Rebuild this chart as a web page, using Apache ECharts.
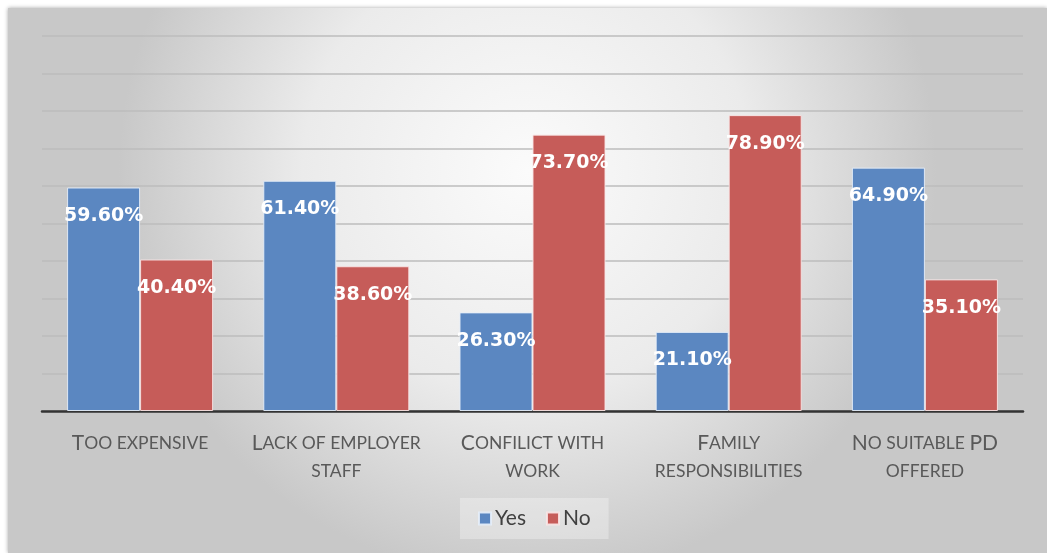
<!DOCTYPE html>
<html>
<head>
<meta charset="utf-8">
<script src="https://cdn.jsdelivr.net/npm/echarts@6/dist/echarts.min.js"></script>
<style>
html,body{margin:0;padding:0;background:#fff;}
#c{width:1047px;height:553px;}
</style>
</head>
<body>
<div id="c"></div>
<script>
const categories = ["Too expensive", "Lack of employer\nstaff", "Confilict with\nwork", "Family\nresponsibilities", "No suitable PD\noffered"];
const seriesNames = ["Yes", "No"];
const yesValues = [59.6, 61.4, 26.3, 21.1, 64.9];
const noValues = [40.4, 38.6, 73.7, 78.9, 35.1];

function smallCaps(text) {
  return text.split('\n').map(line => {
    let out = '', cur = '', curStyle = null;
    for (const ch of line) {
      const st = (ch >= 'A' && ch <= 'Z') ? 'b' : 's';
      if (curStyle !== null && st !== curStyle && cur) { out += '{' + curStyle + '|' + cur + '}'; cur = ''; }
      curStyle = st; cur += ch.toUpperCase();
    }
    if (cur) out += '{' + curStyle + '|' + cur + '}';
    return out;
  }).join('\n');
}

const chart = echarts.init(document.getElementById('c'));
const labelStyle = {
  show: true,
  position: 'insideTop',
  distance: 19,
  color: '#ffffff',
  fontFamily: 'DejaVu Sans',
  fontWeight: 'bold',
  fontSize: 19,
  formatter: p => p.value.toFixed(2) + '%'
};
chart.setOption({
  animation: false,
  graphic: [{
    type: 'rect', z: -10, silent: true,
    shape: {x: 8, y: 8, width: 1039, height: 545},
    style: {
      fill: new echarts.graphic.RadialGradient(0.5, 0.3, 0.75, [
        {offset: 0, color: '#fbfbfb'},
        {offset: 0.55, color: '#ebebeb'},
        {offset: 1, color: '#c8c8c8'}
      ]),
      shadowBlur: 4, shadowColor: 'rgba(0,0,0,0.35)'
    }
  }],
  grid: {left: 42, right: 24, top: 36, bottom: 142, containLabel: false},
  legend: {
    data: seriesNames,
    top: 498,
    left: 460,
    padding: [10, 18, 10, 18],
    backgroundColor: 'rgba(255,255,255,0.3)',
    itemWidth: 12, itemHeight: 12, itemGap: 20,
    icon: 'rect',
    textStyle: {fontFamily: 'Lato', fontSize: 21, color: '#404040', padding: [0, 0, 0, -1]}
  },
  xAxis: {
    type: 'category',
    data: categories,
    axisLine: {lineStyle: {color: '#333333', width: 2.5}},
    axisTick: {show: false},
    axisLabel: {
      margin: 18,
      interval: 0,
      formatter: v => smallCaps(v),
      rich: {
        b: {fontFamily: 'Lato', fontSize: 21, color: '#595959', lineHeight: 28},
        s: {fontFamily: 'Lato', fontSize: 17.5, color: '#595959', lineHeight: 28}
      }
    }
  },
  yAxis: {
    type: 'value', min: 0, max: 100, interval: 10,
    axisLabel: {show: false},
    axisLine: {show: false}, axisTick: {show: false},
    splitLine: {lineStyle: {color: '#bdbdbd', width: 1.5}}
  },
  series: [
    {name: seriesNames[0], type: 'bar', data: yesValues, barWidth: 73, barGap: '0%',
     itemStyle: {color: '#5b87c1', borderColor: 'rgba(230,238,250,0.9)', borderWidth: 1},
     label: labelStyle},
    {name: seriesNames[1], type: 'bar', data: noValues, barWidth: 73, barGap: '0%',
     itemStyle: {color: '#c65c59', borderColor: 'rgba(250,230,230,0.9)', borderWidth: 1},
     label: labelStyle}
  ]
});
</script>
</body>
</html>
